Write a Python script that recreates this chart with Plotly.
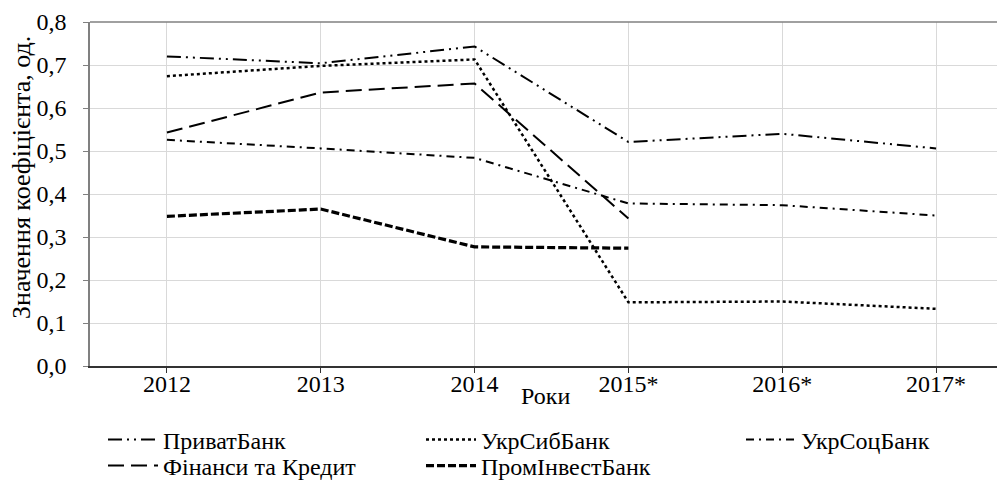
import plotly.graph_objects as go

years = ["2012", "2013", "2014", "2015*", "2016*", "2017*"]
privat = [0.720, 0.704, 0.743, 0.521, 0.540, 0.506]
ukrsib = [0.674, 0.698, 0.713, 0.148, 0.150, 0.133]
ukrsots = [0.526, 0.506, 0.484, 0.378, 0.374, 0.350]
finkredit = [0.543, 0.636, 0.657, 0.343]
prominvest = [0.348, 0.365, 0.277, 0.274]

FONT = "Times New Roman"

fig = go.Figure()
fig.add_trace(go.Scatter(x=years, y=privat, name="ПриватБанк", mode="lines", legend="legend",
                         line=dict(color="black", width=2, dash="14px,5px,2px,5px,2px,5px")))
fig.add_trace(go.Scatter(x=years, y=ukrsib, name="УкрСибБанк", mode="lines", legend="legend2",
                         line=dict(color="black", width=2.5, dash="dot")))
fig.add_trace(go.Scatter(x=years, y=ukrsots, name="УкрСоцБанк", mode="lines", legend="legend3",
                         line=dict(color="black", width=2, dash="8px,5px,2px,5px")))
fig.add_trace(go.Scatter(x=years[:4], y=finkredit, name="Фінанси та Кредит", mode="lines",
                         legend="legend4",
                         line=dict(color="black", width=2, dash="16px,7px")))
fig.add_trace(go.Scatter(x=years[:4], y=prominvest, name="ПромІнвестБанк", mode="lines",
                         legend="legend5",
                         line=dict(color="black", width=3.2, dash="8px,3px")))

fig.add_shape(type="line", xref="paper", yref="paper", x0=0, x1=1, y0=1, y1=1,
              line=dict(color="#808080", width=1.5))

# screen-pixel helpers (page has an 8px body offset)
PW, PH, PL, PB = 923, 344, 90, 366
def px(sx):
    return (sx - PL) / PW
def py(sy):
    return (PB - sy) / PH

fig.add_annotation(text="Роки", xref="paper", yref="paper", x=px(545), y=py(396),
                   showarrow=False, font=dict(family=FONT, size=24, color="black"),
                   xanchor="center", yanchor="middle")
fig.add_annotation(text="Значення коефіцієнта, од.", xref="paper", yref="paper",
                   x=px(21), y=py(178), textangle=-90, showarrow=False,
                   font=dict(family=FONT, size=26, color="black"),
                   xanchor="center", yanchor="middle")

leg_common = dict(orientation="v", xanchor="left", yanchor="middle", itemwidth=50,
                  bgcolor="rgba(0,0,0,0)",
                  font=dict(family=FONT, size=24, color="black"))
ROW1, ROW2 = py(440), py(466)
COL1, COL2, COL3 = px(103), px(421), px(741)

fig.update_layout(
    width=1005, height=480,
    margin=dict(l=82, r=0, t=14, b=122, autoexpand=False),
    plot_bgcolor="white", paper_bgcolor="white",
    separators=", ",
    font=dict(family=FONT, size=24, color="black"),
    showlegend=True,
    legend=dict(x=COL1, y=ROW1, **leg_common),
    legend2=dict(x=COL2, y=ROW1, **leg_common),
    legend3=dict(x=COL3, y=ROW1, **leg_common),
    legend4=dict(x=COL1, y=ROW2, **leg_common),
    legend5=dict(x=COL2, y=ROW2, **leg_common),
)
fig.update_xaxes(type="category", range=[-0.5, 5.5], showgrid=True, gridcolor="#d9d9d9",
                 gridwidth=1, showline=True, linecolor="#333333", linewidth=1.5,
                 ticks="outside", ticklen=5, tickcolor="#333333", tickwidth=1,
                 ticklabelstandoff=-10,
                 tickfont=dict(family=FONT, size=24, color="black"), zeroline=False)
fig.update_yaxes(range=[0, 0.8], dtick=0.1, tickformat=".1f", showgrid=True,
                 gridcolor="#d9d9d9", gridwidth=1, showline=True, linecolor="#808080",
                 linewidth=1.5, ticks="outside", ticklen=5, tickcolor="#808080",
                 ticklabelstandoff=12,
                 tickfont=dict(family=FONT, size=24, color="black"), zeroline=False)

fig.write_html("out.html")
